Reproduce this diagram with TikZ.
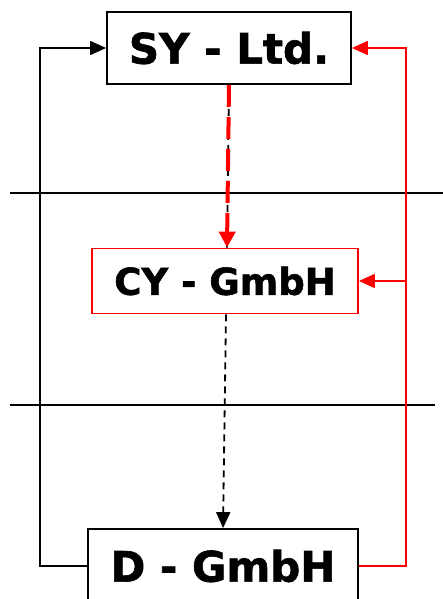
\documentclass[tikz,border=0pt]{standalone}
\usepackage{fontspec}
\setmainfont{DejaVu Sans}
\newfontfamily\firmfont[FakeBold=1.5]{DejaVu Sans Bold}
\usetikzlibrary{arrows.meta}
\tikzset{
	firm/.style={draw, line width=1.8pt, inner sep=0pt, font=\firmfont\fontsize{42}{50}\selectfont},
	link/.style={line width=1.8pt},
	tip/.style={-{Triangle[length=16pt,width=14pt]}},
	bigtip/.style={-{Triangle[length=16pt,width=16pt]}},
}
\begin{document}
\begin{tikzpicture}[x=1pt,y=-1pt]
	\useasboundingbox (0,0) rectangle (443,599);
	\node[firm, minimum width=244pt, minimum height=72pt] (SY) at (229,48) {SY - Ltd.};
	\node[firm, draw=red, minimum width=266pt, minimum height=65pt, font=\firmfont\fontsize{37}{44}\selectfont] (CY) at (225,281) {CY - GmbH};
	\node[firm, minimum width=270pt, minimum height=74pt] (D) at (223,566) {D - GmbH};
	\coordinate (ll) at (40,566);
	\coordinate (lu) at (40,48);
	\coordinate (rl) at (406,566);
	\coordinate (ru) at (406,48);
	\coordinate (rm) at (ru |- CY.east);
	\coordinate (cyin) at ([xshift=2pt]CY.north);
	\draw[link] (10,193) -- (443,193);
	\draw[link] (10,405) -- (435,405);
	\draw[link, tip] (D.west) -- (ll) -- (lu) -- (SY.west);
	\draw[link, red, tip] (D.east) -- (rl) -- (ru) -- (SY.east);
	\draw[link, red, tip] (rm) -- (CY.east);
	\draw[link, dash pattern=on 7pt off 5pt] (SY.south) -- (cyin);
	\draw[red, line width=4pt, dash pattern=on 22pt off 10pt, bigtip] (SY.south) -- (cyin);
	\draw[link, dash pattern=on 7pt off 5pt, tip] ([xshift=1pt]CY.south) -- (D.north);
\end{tikzpicture}
\end{document}
